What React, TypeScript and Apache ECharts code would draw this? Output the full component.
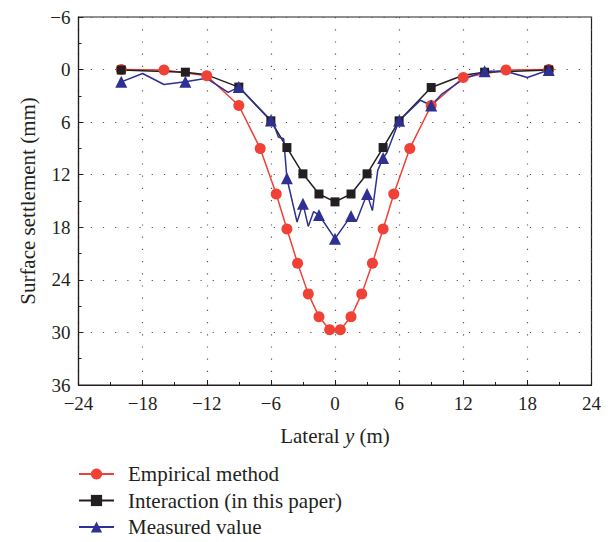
import React, { useEffect, useRef } from "react";
import * as echarts from "echarts";

// Empirical method (red circles)
const empiricalX = [-20, -16, -12, -9, -7, -5.5, -4.5, -3.5, -2.5, -1.5, -0.5, 0.5, 1.5, 2.5, 3.5, 4.5, 5.5, 7, 9, 12, 16, 20];
const empiricalY = [0, 0.05, 0.7, 4.1, 9.0, 14.2, 18.2, 22.1, 25.6, 28.2, 29.7, 29.7, 28.2, 25.6, 22.1, 18.2, 14.2, 9.0, 4.1, 0.9, 0.05, 0];

// Interaction (black squares); 1 = marker shown, 0 = line vertex only
const interactionX = [-20, -14, -12, -9, -6, -4.5, -3, -1.5, 0, 1.5, 3, 4.5, 6, 9, 12, 14, 20];
const interactionY = [0.05, 0.3, 0.6, 2.0, 5.85, 8.9, 11.9, 14.2, 15.1, 14.2, 11.9, 8.9, 5.85, 2.05, 0.65, 0.3, 0.05];
const interactionMark = [1, 1, 0, 1, 1, 1, 1, 1, 1, 1, 1, 1, 1, 1, 0, 1, 1];

// Measured value (blue triangles)
const measuredX = [-20, -18, -16, -14, -12, -10, -9, -6, -5.6, -5.3, -4.8, -4.5, -3.55, -3, -2.5, -2, -1.5, 0, 1.5, 2, 3, 3.5, 4, 4.5, 4.85, 6, 8, 9, 10, 12, 14, 16, 18, 20];
const measuredY = [1.4, 0.45, 1.7, 1.4, 1.0, 2.6, 2.0, 5.8, 6.7, 7.7, 7.9, 12.4, 17.4, 15.3, 17.9, 16.2, 16.6, 19.3, 16.7, 17.3, 14.2, 16.1, 11.5, 10.1, 9.5, 5.85, 3.5, 4.1, 2.8, 1.1, 0.2, 0.2, 0.9, 0.05];
const measuredMark = [1, 0, 0, 1, 0, 0, 1, 1, 0, 0, 0, 1, 0, 1, 0, 0, 1, 1, 1, 0, 1, 0, 0, 1, 0, 1, 0, 1, 0, 0, 1, 0, 0, 1];

const seriesNames = ["Empirical method", "Interaction (in this paper)", "Measured value"];
const xAxisName = "Lateral {i|y} (m)";
const yAxisName = "Surface settlement (mm)";

const FONT = '"Liberation Serif", "Times New Roman", serif';
const TEXT = "#231f20";
const RED = "#ef4136";
const BLACK = "#231f20";
const BLUE = "#2e3192";

function pts(xs: number[], ys: number[], marks: number[] | null) {
  return xs.map((x, i) => {
    const show = marks ? marks[i] === 1 : true;
    return show ? { value: [x, ys[i]] } : { value: [x, ys[i]], symbol: "none" };
  });
}

const fmt = (v: number) => String(v).replace("-", "\u2212");

export default function App() {
  const ref = useRef<HTMLDivElement>(null);
  useEffect(() => {
    if (!ref.current) return;
    const chart = echarts.init(ref.current, undefined, { renderer: "svg" });
    const dotted = { color: "#555", width: 1.2, type: [1.2, 11] as any };
    const tickStyle = { color: TEXT, width: 1 };
    chart.setOption({
      animation: false,
      backgroundColor: "#fff",
      textStyle: { fontFamily: FONT, color: TEXT },
      grid: {
        left: 78.5,
        right: 24.5,
        top: 17,
        bottom: 157,
        show: true,
        borderColor: TEXT,
        borderWidth: 1.2,
        containLabel: false,
      },
      legend: {
        orient: "vertical",
        left: 78,
        top: 463,
        padding: 0,
        itemWidth: 35,
        itemHeight: 14,
        itemGap: 4.5,
        data: seriesNames,
        textStyle: { fontFamily: FONT, fontSize: 21, color: TEXT, lineHeight: 22, padding: [0, 0, 0, 9] },
      },
      xAxis: {
        type: "value",
        min: -24,
        max: 24,
        interval: 6,
        name: xAxisName,
        nameLocation: "middle",
        nameGap: 40,
        nameTextStyle: {
          fontFamily: FONT,
          fontSize: 21,
          color: TEXT,
          rich: { i: { fontFamily: FONT, fontSize: 21, color: TEXT, fontStyle: "italic" } },
        },
        axisLine: { show: true, onZero: false, lineStyle: { color: TEXT, width: 1.2 } },
        axisTick: { show: true, inside: true, length: 5, lineStyle: tickStyle },
        minorTick: { show: true, splitNumber: 2, length: 3, lineStyle: tickStyle },
        axisLabel: { formatter: fmt, fontFamily: FONT, fontSize: 19, color: TEXT, margin: 9 },
        splitLine: { show: true, lineStyle: dotted },
      },
      yAxis: {
        type: "value",
        inverse: true,
        min: -6,
        max: 36,
        interval: 6,
        name: yAxisName,
        nameLocation: "middle",
        nameGap: 40,
        nameTextStyle: { fontFamily: FONT, fontSize: 21, color: TEXT },
        axisLine: { show: true, onZero: false, lineStyle: { color: TEXT, width: 1.2 } },
        axisTick: { show: true, inside: true, length: 5, lineStyle: tickStyle },
        minorTick: { show: true, splitNumber: 2, length: 3, lineStyle: tickStyle },
        axisLabel: { formatter: fmt, fontFamily: FONT, fontSize: 19, color: TEXT, margin: 8 },
        splitLine: { show: true, lineStyle: dotted },
      },
      series: [
        {
          name: seriesNames[0],
          type: "line",
          data: pts(empiricalX, empiricalY, null),
          symbol: "circle",
          symbolSize: 11,
          showAllSymbol: true,
          lineStyle: { color: RED, width: 1.5 },
          itemStyle: { color: RED },
        },
        {
          name: seriesNames[1],
          type: "line",
          data: pts(interactionX, interactionY, interactionMark),
          symbol: "rect",
          symbolSize: 9,
          showAllSymbol: true,
          lineStyle: { color: BLACK, width: 1.5 },
          itemStyle: { color: BLACK },
        },
        {
          name: seriesNames[2],
          type: "line",
          data: pts(measuredX, measuredY, measuredMark),
          symbol: "triangle",
          symbolSize: 12,
          showAllSymbol: true,
          lineStyle: { color: BLUE, width: 1.5 },
          itemStyle: { color: BLUE },
        },
      ],
    });
    return () => chart.dispose();
  }, []);
  return <div ref={ref} style={{ position: "absolute", left: 0, top: 0, width: 616, height: 542 }} />;
}
